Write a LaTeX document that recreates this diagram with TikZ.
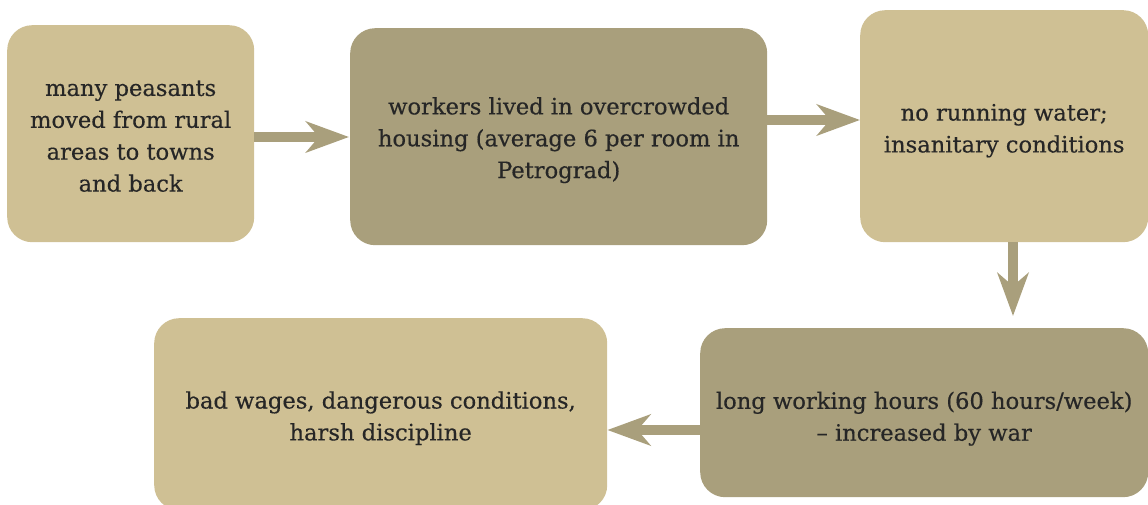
\documentclass[tikz,border=0pt]{standalone}
\usepackage{fontspec}
\setmainfont{DejaVu Serif}
\newfontfamily\boxfont{DejaVu Serif}[FakeBold=0.4]
\usetikzlibrary{arrows.meta}
\definecolor{lighttan}{HTML}{CFC094}
\definecolor{darktan}{HTML}{A99F7C}
\definecolor{txt}{HTML}{262626}
\tikzset{
  box/.style={rounded corners=25bp, inner sep=0pt, anchor=north west},
  lightbox/.style={box, fill=lighttan},
  darkbox/.style={box, fill=darktan},
  boxtext/.style={inner sep=0pt, align=center, text=txt,
    font=\boxfont\fontsize{22.7}{32}\selectfont},
  flow/.style={draw=darktan, line width=10bp,
    -{Stealth[length=43bp, width=31bp, inset=13bp]}}
}
\begin{document}
\begin{tikzpicture}[x=1bp,y=-1bp]
\useasboundingbox (0,0) rectangle (1148,505);
\begin{scope}
\clip (0,0) rectangle (1148,505);
\node[lightbox, minimum width=247bp, minimum height=217bp] (b1) at (7,25) {};
\node[darkbox, minimum width=417bp, minimum height=217bp] (b2) at (350,28) {};
\node[lightbox, minimum width=288bp, minimum height=232bp] (b3) at (860,10) {};
\node[darkbox, minimum width=448bp, minimum height=169bp] (b4) at (700,328) {};
\node[lightbox, minimum width=453bp, minimum height=192bp] (b5) at (154,318) {};
\end{scope}
\node[boxtext] (t1) at ([yshift=-2.5bp]b1.center)
  {many peasants\\moved from rural\\areas to towns\\and back};
\node[boxtext] (t2) at ([yshift=-3.5bp]b2.center)
  {workers lived in overcrowded\\housing (average 6 per room in\\Petrograd)};
\node[boxtext] (t3) at ([yshift=-4.5bp]b3.center)
  {no running water;\\insanitary conditions};
\node[boxtext] (t4) at ([yshift=-6bp]b4.center)
  {long working hours (60 hours/week)\\– increased by war};
\node[boxtext] (t5) at ([yshift=-4bp]b5.center)
  {bad wages, dangerous conditions,\\harsh discipline};
\coordinate (a1s) at (b1.east |- 0,137);
\coordinate (a1e) at (b2.west |- 0,137);
\coordinate (a2s) at (b2.east |- 0,120);
\coordinate (a2e) at (b3.west |- 0,120);
\coordinate (a3s) at (b3.south -| 1013,0);
\coordinate (a3e) at (1013,316);
\coordinate (a4s) at (b4.west |- 0,430);
\coordinate (a4e) at (b5.east |- 0,430);
\draw[flow, shorten >=1bp] (a1s) -- (a1e);
\draw[flow] (a2s) -- (a2e);
\draw[flow] (a3s) -- (a3e);
\draw[flow] (a4s) -- (a4e);
\end{tikzpicture}
\end{document}
